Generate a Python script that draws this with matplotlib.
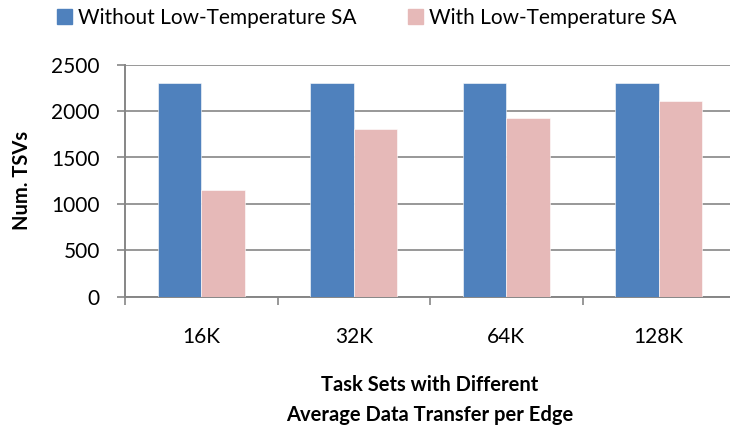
import numpy as np
import matplotlib
matplotlib.use("Agg")
import matplotlib.pyplot as plt
from matplotlib.patches import Patch

plt.rcParams['font.family'] = ['Lato', 'DejaVu Sans']

# data
categories = ["16K", "32K", "64K", "128K"]
series_names = ["Without Low-Temperature SA", "With Low-Temperature SA"]
without_sa = [2300, 2300, 2300, 2300]
with_sa = [1150, 1805, 1925, 2110]

blue = "#4F81BD"
pink = "#E6B9B8"
grey = "#868686"
fs = 15
fs_bold = 14.5

fig = plt.figure(figsize=(7.3, 4.29), dpi=100)
ax = fig.add_axes([125/730, 132.3/429, 610/730, 232/429])

x = np.arange(len(categories))
w = 0.2857
ax.bar(x - w/2, without_sa, w, color=blue, edgecolor="white", linewidth=0.4, zorder=3)
ax.bar(x + w/2, with_sa, w, color=pink, edgecolor="white", linewidth=0.4, zorder=3)

ax.set_xlim(-0.5, len(categories) - 0.5)
ax.set_ylim(0, 2500)
ax.set_yticks(np.arange(0, 2501, 500))
ax.yaxis.grid(True, color=grey, linewidth=1.2, zorder=0)
ax.set_axisbelow(True)

# category boundaries get the ticks, labels sit in the middle
ax.set_xticks(np.arange(-0.5, len(categories)), labels=[""] * (len(categories) + 1))
ax.set_xticks(x, labels=categories, minor=True)
ax.tick_params(axis="x", which="major", length=6, color=grey, width=1.2)
ax.tick_params(axis="x", which="minor", length=0, pad=22, labelsize=fs)
ax.tick_params(axis="y", length=6, color=grey, width=1.2, pad=12, labelsize=fs)

for s in ["top", "right"]:
    ax.spines[s].set_visible(False)
for s in ["left", "bottom"]:
    ax.spines[s].set_color(grey)
    ax.spines[s].set_linewidth(1.4)

ax.set_ylabel("Num. TSVs", fontsize=fs_bold, fontweight="bold", va="center")
ax.yaxis.set_label_coords(-0.169, 0.5)
ax.set_xlabel("Task Sets with Different\nAverage Data Transfer per Edge",
              fontsize=fs_bold, fontweight="bold", linespacing=1.6, labelpad=20)

handles = [Patch(color=blue), Patch(color=pink)]
fig.legend(handles, series_names, loc="upper left", bbox_to_anchor=(57/730, 1 - 8/429),
           ncol=2, frameon=False, fontsize=fs, handlelength=0.7, handleheight=0.7,
           handletextpad=0.3, columnspacing=2.5, borderpad=0, borderaxespad=0)

plt.savefig("out.png", dpi=100)
